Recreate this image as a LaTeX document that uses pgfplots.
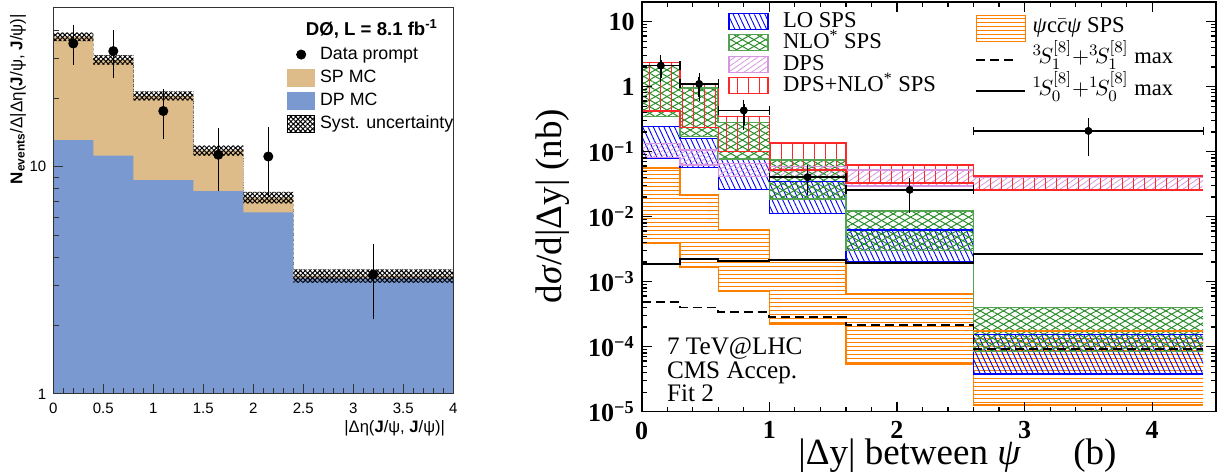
\documentclass[border=0pt]{standalone}
\usepackage{pgfplots}
\pgfplotsset{compat=1.18}
\usepackage{pgfplotstable}
\usepgfplotslibrary{fillbetween}
\usetikzlibrary{patterns,patterns.meta}
\usepackage{fontspec}
\setmainfont{Liberation Serif}
\newfontfamily\hel{Liberation Sans}

\definecolor{spcol}{RGB}{222,188,138}
\definecolor{dpcol}{RGB}{122,153,209}
\definecolor{lgreen}{RGB}{40,140,40}
\definecolor{lblue}{RGB}{0,0,255}
\definecolor{lpink}{RGB}{215,150,225}
\definecolor{lred}{RGB}{255,40,40}
\definecolor{lorange}{RGB}{255,128,0}

\tikzset{
 hatchLO/.style={pattern={Lines[angle=-65,distance=2.4pt,line width=0.45pt]}, pattern color=lblue},
 hatchNa/.style={pattern={Lines[angle=30,distance=2.9pt,line width=0.5pt]}, pattern color=lgreen},
 hatchNb/.style={pattern={Lines[angle=-30,distance=2.9pt,line width=0.5pt]}, pattern color=lgreen},
 hatchDPS/.style={pattern={Lines[angle=35,distance=2.2pt,line width=0.4pt]}, pattern color=lpink},
 hatchRED/.style={pattern={Lines[angle=90,distance=5.5pt,line width=0.5pt]}, pattern color=lred},
 hatchOR/.style={pattern={Lines[angle=0,distance=2pt,line width=0.5pt]}, pattern color=lorange},
 hatchSa/.style={pattern={Lines[angle=45,distance=1.7pt,line width=0.5pt]}, pattern color=black},
 hatchSb/.style={pattern={Lines[angle=-45,distance=1.7pt,line width=0.5pt]}, pattern color=black},
}

% ---------- left panel data ----------
\pgfplotstableread{
x    sp    dp    su    sl
0    37.3  13.1  39.0  35.7
0.4  29.6  11.2  31.0  28.2
0.8  20.5  8.74  21.5  19.6
1.4  11.8  7.82  12.4  11.2
1.9  7.32  6.30  7.76  6.90
2.4  3.32  3.25  3.54  3.09
4.0  3.32  3.25  3.54  3.09
}\ltab
\pgfplotstableread{
x    y     ep    em
0.2  34.9  7.1   6.7
0.6  32.3  7.6   7.8
1.1  17.6  4.3   4.4
1.65 11.3  3.5   3.5
2.15 11.1  3.9   3.7
3.2  3.36  1.20  1.22
}\ldat

% ---------- right panel data ----------
\pgfplotstableread{
x    lohi    lolo    nhi     nlo     dhi     dlo     rhi    rlo    ohi     olo      sol     dsh
0    0.243   0.080   2.10    0.345   0.135   0.082   2.36   0.42   0.0556  0.0039   1.87e-3 4.8e-4
0.3  0.160   0.057   0.95    0.170   0.106   0.0624  1.07   0.234  0.0216  0.00165  2.23e-3 4.0e-4
0.6  0.079   0.0264  0.28    0.077   0.066   0.041   0.345  0.100  0.00624 7.0e-4   2.10e-3 3.4e-4
1.0  0.0345  0.0113  0.0745  0.0187  0.0587  0.040   0.135  0.052  0.0021  2.23e-4  2.16e-3 2.9e-4
1.6  0.00624 0.00203 0.01225 0.0030  0.052   0.0296  0.0624 0.0327 6.6e-4  5.4e-5   1.96e-3 2.13e-4
2.6  1.55e-4 3.8e-5  3.98e-4 8.4e-5  0.0404  0.0264  0.0423 0.0258 1.75e-4 1.27e-5  2.67e-3 9.2e-5
4.4  1.55e-4 3.8e-5  3.98e-4 8.4e-5  0.0404  0.0264  0.0423 0.0258 1.75e-4 1.27e-5  2.67e-3 9.2e-5
}\rtab
\pgfplotstableread{
x    y      ex    ep     em
0.15 2.10   0.15  0.48   0.73
0.45 1.10   0.15  0.29   0.40
0.8  0.43   0.2   0.11   0.175
1.3  0.0404 0.3   0.012  0.0153
2.1  0.0258 0.5   0.0076 0.0125
3.5  0.208  0.9   0.071  0.109
}\rdat

\begin{document}
\begin{tikzpicture}

% ================= LEFT PANEL =================
\begin{axis}[
  at={(26.65pt,40.5pt)}, anchor=south west, scale only axis,
  width=200pt, height=193pt,
  xmin=0, xmax=4, ymin=1, ymax=50, ymode=log,
  axis on top,
  axis line style={line width=0.5pt, black!80},
  tick pos=left,
  xtick={0,0.5,1,1.5,2,2.5,3,3.5,4}, minor x tick num=4,
  ytick={1,10}, yticklabels={1,10},
  minor ytick={2,3,4,5,6,7,8,9,20,30,40},
  major tick length=5pt, minor tick length=2.8pt,
  tick style={black!80, line width=0.5pt},
  ticklabel style={font=\hel\fontsize{7.5}{8}\selectfont},
  xticklabel style={yshift=-1.2pt},
  /pgf/number format/assume math mode=true,
  legend cell align=left,
  legend style={at={(axis description cs:0.584,0.905)}, anchor=north west,
    draw=none, fill=none, inner sep=0pt, row sep=2pt,
    font=\hel\fontsize{8.9}{10}\selectfont,
    nodes={inner sep=0.5pt, text height=6.5pt, text depth=2pt},
    /tikz/every odd column/.append style={column sep=2pt}},
]
\addplot[name path=base, draw=none, forget plot] coordinates {(0,1) (4,1)};
\addplot[name path=sp, const plot, draw=none, forget plot] table[x=x,y=sp]{\ltab};
\addplot[fill=spcol, draw=none, forget plot] fill between[of=sp and base];
\addplot[name path=dp, const plot, draw=none, forget plot] table[x=x,y=dp]{\ltab};
\addplot[fill=dpcol, draw=none, forget plot] fill between[of=dp and base];
\addplot[name path=su, const plot, draw=none, forget plot] table[x=x,y=su]{\ltab};
\addplot[name path=sl, const plot, draw=none, forget plot] table[x=x,y=sl]{\ltab};
\addplot[hatchSa, draw=none, forget plot] fill between[of=su and sl];
\addplot[hatchSb, draw=none, forget plot] fill between[of=su and sl];
\addplot[only marks, mark=*, mark size=2.3pt, black, forget plot,
  error bars/.cd, y dir=both, y explicit, error mark=none,
  error bar style={line width=0.6pt, black}]
  table[x=x,y=y,y error plus=ep,y error minus=em]{\ldat};

\addlegendimage{legend image code/.code={\fill[black] (6.75pt,0pt) circle (2.3pt);}}
\addlegendentry{Data prompt}
\addlegendimage{legend image code/.code={\fill[spcol] (0pt,-4.25pt) rectangle (13.5pt,4.25pt);}}
\addlegendentry{SP MC}
\addlegendimage{legend image code/.code={\fill[dpcol] (0pt,-4.25pt) rectangle (13.5pt,4.25pt);}}
\addlegendentry{DP MC}
\addlegendimage{legend image code/.code={\fill[hatchSa] (0pt,-4.25pt) rectangle (13.5pt,4.25pt);\fill[hatchSb] (0pt,-4.25pt) rectangle (13.5pt,4.25pt);}}
\addlegendentry{Syst. uncertainty}
\end{axis}

\node[font=\hel\bfseries\fontsize{9.3}{10}\selectfont, anchor=base east] at (222.5pt,219.6pt) {DØ, L = 8.1 fb\textsuperscript{-1}};
\node[font=\hel\fontsize{8.5}{9}\selectfont, rotate=90, anchor=east] at (9pt,234pt)
  {\textbf{N}\textsubscript{\textbf{events}}/Δ|Δη(\textbf{J}/ψ, \textbf{J}/ψ)|};
\node[font=\hel\fontsize{8.3}{9}\selectfont, anchor=east] at (226pt,23.5pt) {|Δη(\textbf{J}/ψ, \textbf{J}/ψ)|};

% ================= RIGHT PANEL =================
\begin{axis}[
  at={(320.85pt,31.65pt)}, anchor=south west, scale only axis,
  width=287.15pt, height=204.85pt,
  xmin=0, xmax=4.5, ymin=1e-5, ymax=20, ymode=log,
  axis on top,
  axis line style={line width=0.8pt},
  tick style={line width=0.6pt, black},
  xtick={0,1,2,3,4}, xticklabels={0,1,2,3,4},
  minor x tick num=4,
  ytick={1e-5,1e-4,1e-3,1e-2,1e-1,1,10},
  yticklabels={10\textsuperscript{−5},10\textsuperscript{−4},10\textsuperscript{−3},10\textsuperscript{−2},10\textsuperscript{−1},1,10},
  major tick length=5pt, minor tick length=2.5pt,
  ticklabel style={font=\fontsize{13}{14}\selectfont\bfseries},
  xticklabel style={yshift=-1.5pt},
  legend cell align=left,
  legend style={at={(axis description cs:0.150,0.9775)}, anchor=north west,
    draw=none, fill=none, inner sep=0pt, row sep=1.25pt,
    font=\fontsize{11.3}{12}\selectfont,
    nodes={inner sep=0.25pt, text height=7.5pt, text depth=1.5pt},
    /tikz/every odd column/.append style={column sep=7pt}},
]
% psi c cbar psi SPS (orange)
\addplot[name path=ohi, const plot, draw=lorange, line width=0.7pt, forget plot] table[x=x,y=ohi]{\rtab};
\addplot[name path=olo, const plot, draw=lorange, line width=0.7pt, forget plot] table[x=x,y=olo]{\rtab};
\addplot[hatchOR, draw=none, forget plot] fill between[of=ohi and olo];
% LO SPS (blue)
\addplot[name path=lohi, const plot, draw=lblue, line width=0.6pt, forget plot] table[x=x,y=lohi]{\rtab};
\addplot[name path=lolo, const plot, draw=lblue, line width=0.6pt, forget plot] table[x=x,y=lolo]{\rtab};
\addplot[hatchLO, draw=none, forget plot] fill between[of=lohi and lolo];
% NLO* SPS (green)
\addplot[name path=nhi, const plot, draw=lgreen!80, line width=0.8pt, forget plot] table[x=x,y=nhi]{\rtab};
\addplot[name path=nlo, const plot, draw=lgreen!80, line width=0.8pt, forget plot] table[x=x,y=nlo]{\rtab};
\addplot[hatchNa, draw=none, forget plot] fill between[of=nhi and nlo];
\addplot[hatchNb, draw=none, forget plot] fill between[of=nhi and nlo];
% DPS (pink)
\addplot[name path=dhi, const plot, draw=lpink, line width=0.6pt, forget plot] table[x=x,y=dhi]{\rtab};
\addplot[name path=dlo, const plot, draw=lpink, line width=0.6pt, forget plot] table[x=x,y=dlo]{\rtab};
\addplot[hatchDPS, draw=none, forget plot] fill between[of=dhi and dlo];
% DPS+NLO* (red)
\addplot[name path=rhi, const plot, draw=lred, line width=0.7pt, forget plot] table[x=x,y=rhi]{\rtab};
\addplot[name path=rlo, const plot, draw=lred, line width=0.7pt, forget plot] table[x=x,y=rlo]{\rtab};
\addplot[hatchRED, draw=none, forget plot] fill between[of=rhi and rlo];
% CO lines
\addplot[const plot, black, line width=0.9pt, forget plot] table[x=x,y=sol]{\rtab};
\addplot[const plot, black, line width=0.9pt, dash pattern=on 4.5pt off 2.5pt, forget plot] table[x=x,y=dsh]{\rtab};
% data: horizontal (bin width) bars with vertical end caps
\addplot[only marks, mark=*, mark size=1.7pt, black, forget plot,
  error bars/.cd, x dir=both, x explicit, error mark=|,
  error mark options={line width=0.6pt, mark size=2.2pt, black},
  error bar style={line width=0.7pt, black}]
  table[x=x,y=y,x error=ex]{\rdat};
% data: vertical bars with horizontal caps
\addplot[only marks, mark=*, mark size=1.7pt, black, forget plot,
  error bars/.cd, y dir=both, y explicit, error mark=-,
  error mark options={line width=0.6pt, mark size=2.2pt, black},
  error bar style={line width=0.7pt, black}]
  table[x=x,y=y,y error plus=ep,y error minus=em]{\rdat};

\addlegendimage{legend image code/.code={\fill[hatchLO] (0pt,-4pt) rectangle (19.5pt,4pt);\draw[lblue,line width=0.6pt] (0pt,-4pt) rectangle (19.5pt,4pt);}}
\addlegendentry{LO SPS}
\addlegendimage{legend image code/.code={\fill[hatchNa] (0pt,-4pt) rectangle (19.5pt,4pt);\fill[hatchNb] (0pt,-4pt) rectangle (19.5pt,4pt);\draw[lgreen!80,line width=0.7pt] (0pt,-4pt) rectangle (19.5pt,4pt);}}
\addlegendentry{NLO\textsuperscript{*} SPS}
\addlegendimage{legend image code/.code={\fill[hatchDPS] (0pt,-4pt) rectangle (19.5pt,4pt);\draw[lpink,line width=0.6pt] (0pt,-4pt) rectangle (19.5pt,4pt);}}
\addlegendentry{DPS}
\addlegendimage{legend image code/.code={\fill[hatchRED] (0pt,-4pt) rectangle (19.5pt,4pt);\draw[lred,line width=0.7pt] (0pt,-4pt) rectangle (19.5pt,4pt);}}
\addlegendentry{DPS+NLO\textsuperscript{*} SPS}
\end{axis}

% second legend column (overlay axis, legend only)
\begin{axis}[
  at={(320.85pt,31.65pt)}, anchor=south west, scale only axis,
  width=287.15pt, height=204.85pt,
  xmin=0, xmax=1, ymin=0, ymax=1, hide axis,
  legend cell align=left,
  legend style={at={(axis description cs:0.5803,0.972)}, anchor=north west,
    draw=none, fill=none, inner sep=0pt, row sep=1.2pt,
    font=\fontsize{11.3}{12}\selectfont,
    nodes={inner sep=0.25pt, text height=9pt, text depth=5pt},
    /tikz/every odd column/.append style={column sep=3pt}},
]
\addlegendimage{legend image code/.code={\fill[hatchOR] (0pt,-6.4pt) rectangle (24.5pt,6.4pt);\draw[lorange,line width=0.6pt] (0pt,-6.4pt) rectangle (24.5pt,6.4pt);}}
\addlegendentry{\textit{ψ}c$\bar{\textit{c}}$\textit{ψ} SPS}
\addlegendimage{legend image code/.code={\draw[black,line width=0.9pt,dash pattern=on 4.5pt off 2.5pt] (0pt,0pt) -- (21pt,0pt);}}
\addlegendentry{${}^{3}\!S_{1}^{[8]}\mathord{+}{}^{3}\!S_{1}^{[8]}$ max}
\addlegendimage{legend image code/.code={\draw[black,line width=0.9pt] (0pt,0pt) -- (24.5pt,0pt);}}
\addlegendentry{${}^{1}\!S_{0}^{[8]}\mathord{+}{}^{1}\!S_{0}^{[8]}$ max}
\end{axis}

\node[font=\fontsize{18.5}{20}\selectfont, rotate=90] at (276.5pt,134.5pt) {d\textit{σ}/d|Δy| (nb)};
\node[font=\fontsize{18.5}{20}\selectfont, anchor=base west, inner sep=0pt] at (399pt,5pt) {|Δy| between \textit{ψ}};
\node[font=\fontsize{18.5}{20}\selectfont, anchor=base west, inner sep=0pt] at (536.5pt,5pt) {(b)};
\node[font=\fontsize{12.6}{14}\selectfont, anchor=base west, inner sep=0pt] at (333.3pt,60pt) {7 TeV@LHC};
\node[font=\fontsize{12.6}{14}\selectfont, anchor=base west, inner sep=0pt] at (333.3pt,48.3pt) {CMS Accep.};
\node[font=\fontsize{12.6}{14}\selectfont, anchor=base west, inner sep=0pt] at (333.3pt,36.7pt) {Fit 2};
\path (0pt,0pt) rectangle (613pt,237.5pt);
\end{tikzpicture}
\end{document}
